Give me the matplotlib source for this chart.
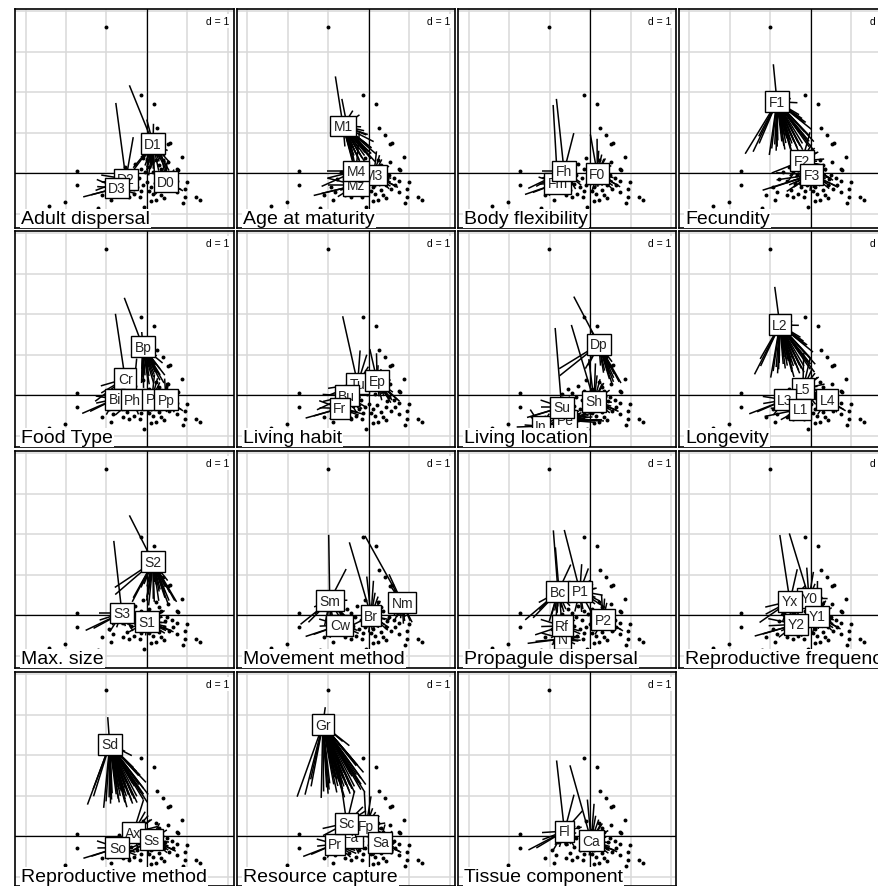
import matplotlib
matplotlib.use('Agg')
import matplotlib.pyplot as plt
from matplotlib.collections import LineCollection

plt.rcParams['font.family'] = ['Liberation Sans', 'DejaVu Sans']

# taxa scores on the first two axes
px = [-1.02, -0.16, 0.17, 0.25, 0.40, 0.51, 0.58, 0.87, 0.74, 0.77,
      -1.74, -1.72, 0.98, -0.83, -0.16, 0.16, 0.74, 1.22, 1.31, 0.94,
      0.88, 0.43, 0.21, -0.17, -0.88, -2.02, -2.41, -1.22, -0.07,
      -0.45, -0.30, -0.10, 0.05, 0.22, 0.35, 0.52, -0.60, -0.40, -0.20,
      0.00, 0.20, 0.42, 0.62, -0.50, 0.30, -0.05, 0.15, -0.32, 0.55, -0.70,
      -0.25, 0.10, 0.45, -0.55, 0.30, -0.15, 0.65, -0.80, 0.05, -0.35,
      -0.95, -0.60, 0.35, 0.75, -1.10, 0.95, -0.10, 0.50, -0.45, 0.10]
py = [3.61, 1.92, 1.71, 1.12, 0.93, 0.72, 0.74, 0.39, 0.10, 0.07,
      0.05, -0.30, -0.21, -0.46, -0.44, -0.51, -0.46, -0.60, -0.66, -0.60,
      -0.73, -0.61, -0.66, -0.60, -0.66, -0.71, -0.81, -0.87, -0.84,
      0.05, 0.22, 0.38, 0.15, 0.32, 0.10, 0.28, -0.20, -0.28, -0.12,
      -0.22, -0.25, -0.30, -0.12, -0.42, -0.42, 0.02, 0.02, -0.52, -0.40, 0.02,
      -0.35, -0.35, -0.15, 0.15, 0.20, 0.10, -0.30, -0.15, -0.45, -0.05,
      -0.35, -0.55, -0.55, -0.20, -0.55, -0.40, -0.30, -0.05, -0.60, -0.70]

# category centres and the taxa carrying each category, per trait
disp_lab = ['D0', 'D1', 'D2', 'D3']
disp_x = [0.47, 0.15, -0.52, -0.74]
disp_y = [-0.22, 0.72, -0.15, -0.37]
disp_taxa = [[3, 4, 5, 7, 8, 9, 12, 15, 16, 17, 18, 19, 20, 21, 22, 28, 34, 35, 40, 41, 42, 44, 46, 48, 52, 56, 51, 62, 63, 65, 67, 69],
             [0, 1, 2, 3, 4, 5, 6, 7, 8, 12, 13, 14, 15, 16, 19, 21, 22, 23, 24, 28, 29, 30, 31, 32, 33, 34, 35, 38, 39, 40, 45, 46, 50, 51, 52, 54, 55, 58, 59, 66, 67, 63],
             [0, 1, 10, 11, 13, 14, 23, 24, 25, 27, 29, 30, 36, 37, 38, 43, 47, 49, 53, 57, 59, 60, 64],
             [10, 11, 13, 24, 25, 26, 27, 23, 14, 28, 36, 37, 43, 47, 49, 15, 22, 57, 50, 53, 60, 61, 64, 68]]

mat_lab = ['M1', 'M3', 'Mz', 'M4']
mat_x = [-0.64, 0.12, -0.32, -0.32]
mat_y = [1.16, -0.05, -0.30, 0.05]
mat_taxa = [[0, 1, 2, 3, 4, 5, 6, 7, 8, 9, 12, 14, 15, 16, 19, 21, 22, 23, 28, 30, 31, 33, 35, 38, 39, 40, 41, 42, 44, 46, 54, 55, 52, 53, 63, 66, 67],
            [3, 4, 5, 7, 8, 9, 12, 16, 17, 18, 19, 20, 21, 22, 34, 35, 41, 42, 48, 52, 56, 51, 58, 62, 63, 65, 67, 69],
            [10, 11, 13, 24, 25, 26, 27, 23, 14, 28, 36, 37, 43, 47, 15, 22, 49, 50, 57, 58, 60, 61, 64, 68, 66],
            [0, 1, 10, 11, 13, 14, 23, 24, 25, 29, 30, 31, 32, 36, 37, 38, 45, 46, 49, 15, 22, 53, 55, 59, 50, 60, 66]]

flex_lab = ['F0', 'Fm', 'Fh']
flex_x = [0.18, -0.80, -0.64]
flex_y = [-0.02, -0.25, 0.05]
flex_taxa = [[1, 2, 3, 4, 5, 6, 7, 8, 9, 12, 14, 15, 16, 17, 18, 19, 20, 21, 22, 23, 28, 31, 32, 33, 34, 35, 39, 40, 41, 42, 44, 45, 46, 48, 50, 51, 52, 54, 55, 56, 58, 62, 63, 65, 66, 67, 69],
             [0, 10, 11, 13, 24, 25, 26, 27, 23, 36, 37, 43, 47, 49, 29, 14, 57, 53, 60, 64, 61],
             [0, 1, 10, 11, 13, 14, 23, 24, 25, 26, 27, 28, 29, 30, 36, 37, 38, 43, 45, 47, 49, 15, 22, 53, 57, 59, 50, 60, 61, 68]]

fec_lab = ['F1', 'F2', 'F3']
fec_x = [-0.84, -0.22, 0.02]
fec_y = [1.76, 0.30, -0.04]
fec_taxa = [[0, 1, 2, 3, 4, 5, 6, 7, 8, 10, 11, 12, 13, 14, 15, 16, 19, 21, 22, 23, 24, 25, 26, 27, 28, 29, 30, 31, 33, 35, 36, 37, 38, 39, 40, 41, 42, 43, 44, 53, 55, 57, 59, 54, 60, 64, 66, 68, 63],
            [2, 3, 4, 5, 6, 7, 8, 9, 12, 16, 17, 18, 19, 20, 21, 22, 13, 24, 11, 15, 28, 32, 33, 34, 35, 41, 42, 44, 46, 48, 36, 37, 52, 54, 56, 51, 62, 63, 65, 67],
            [10, 11, 13, 14, 15, 16, 19, 20, 21, 22, 23, 24, 25, 26, 27, 28, 29, 36, 37, 39, 40, 41, 43, 44, 47, 49, 12, 17, 18, 50, 51, 58, 57, 59, 60, 61, 64, 66, 68, 69, 62]]

food_lab = ['Bp', 'Cr', 'Bi', 'Ph', 'Pl', 'Pp']
food_x = [-0.10, -0.54, -0.79, -0.35, 0.12, 0.47]
food_y = [1.19, 0.40, -0.10, -0.12, -0.10, -0.12]
food_taxa = [[0, 1, 2, 3, 4, 5, 6, 7, 8, 12, 14, 15, 16, 19, 21, 22, 23, 28, 31, 33, 35, 39, 40, 41, 42, 46, 54, 55, 52, 63, 66, 67],
             [0, 10, 11, 13, 24, 25, 27, 14, 23, 29, 30, 36, 37, 38, 43, 45, 49, 53, 57, 59, 60, 64],
             [10, 11, 13, 24, 25, 26, 27, 23, 36, 43, 47, 49, 14, 57, 60, 61, 64],
             [1, 10, 13, 14, 15, 22, 23, 24, 27, 28, 29, 30, 36, 37, 38, 39, 43, 45, 47, 49, 50, 58, 59, 66, 68, 61],
             [3, 4, 5, 7, 8, 9, 12, 15, 16, 17, 18, 19, 20, 21, 22, 28, 32, 33, 34, 35, 39, 40, 41, 42, 44, 46, 48, 51, 52, 54, 56, 62, 67, 69],
             [5, 7, 8, 9, 12, 16, 17, 18, 19, 20, 21, 22, 34, 35, 41, 42, 48, 4, 6, 52, 56, 63, 65, 67]]

hab_lab = ['Tu', 'Bu', 'Ep', 'Fr']
hab_x = [-0.28, -0.55, 0.20, -0.72]
hab_y = [0.28, -0.02, 0.35, -0.33]
hab_taxa = [[0, 1, 2, 3, 4, 5, 6, 7, 10, 11, 13, 14, 23, 24, 29, 30, 31, 33, 36, 38, 43, 45, 46, 53, 55, 59, 60, 66],
            [10, 11, 13, 14, 15, 22, 23, 24, 25, 27, 28, 36, 37, 38, 39, 40, 43, 45, 47, 49, 29, 50, 51, 58, 59, 61, 62, 66, 68, 69],
            [1, 2, 3, 4, 5, 6, 7, 8, 9, 12, 16, 17, 18, 19, 20, 21, 32, 33, 34, 35, 41, 42, 44, 46, 48, 52, 54, 56, 63, 65, 67],
            [10, 11, 13, 24, 25, 26, 27, 23, 14, 28, 36, 37, 43, 47, 49, 15, 22, 21, 57, 50, 60, 64, 61]]

loc_lab = ['Dp', 'In', 'Pe', 'Sh', 'Su']
loc_x = [0.22, -1.21, -0.62, 0.10, -0.70]
loc_y = [1.25, -0.77, -0.62, -0.15, -0.30]
loc_taxa = [[0, 1, 2, 3, 4, 5, 6, 7, 8, 9, 12, 16, 19, 20, 17, 18, 10, 11, 29, 30, 54, 52, 63, 65, 67],
            [25, 26, 27, 24, 13, 11, 10, 23, 43, 47, 57, 64, 60],
            [13, 14, 15, 16, 19, 20, 21, 22, 23, 28, 37, 39, 40, 41, 44, 47, 48, 12, 17, 18, 50, 51, 58, 61, 62, 68, 69, 66],
            [0, 1, 2, 3, 4, 5, 6, 7, 8, 9, 12, 14, 15, 16, 17, 18, 19, 20, 21, 22, 28, 31, 32, 33, 34, 35, 39, 40, 41, 42, 44, 46, 48, 51, 52, 54, 55, 56, 62, 63, 65, 67, 69],
            [0, 10, 11, 13, 14, 23, 24, 25, 26, 27, 28, 29, 30, 36, 37, 38, 43, 45, 47, 49, 15, 22, 53, 57, 59, 50, 60, 61, 64, 66, 68]]

lon_lab = ['L2', 'L5', 'L3', 'L4', 'L1']
lon_x = [-0.77, -0.20, -0.64, 0.40, -0.27]
lon_y = [1.73, 0.15, -0.12, -0.12, -0.35]
lon_taxa = [[0, 1, 2, 3, 4, 5, 6, 7, 8, 10, 11, 12, 13, 14, 15, 16, 19, 21, 22, 23, 24, 25, 27, 28, 29, 30, 31, 33, 35, 36, 37, 38, 39, 40, 41, 42, 43, 44, 53, 55, 57, 59, 60, 64, 66, 63],
            [3, 4, 5, 6, 7, 8, 9, 12, 16, 17, 18, 19, 20, 21, 22, 32, 33, 34, 35, 41, 42, 44, 46, 48, 1, 2, 52, 54, 55, 63, 67],
            [10, 11, 13, 24, 25, 26, 27, 23, 14, 36, 37, 43, 47, 49, 29, 28, 57, 59, 60, 64, 61],
            [7, 8, 9, 12, 16, 17, 18, 19, 20, 21, 22, 34, 35, 41, 42, 48, 15, 28, 52, 56, 62, 63, 65, 67],
            [13, 14, 15, 21, 22, 23, 24, 27, 28, 36, 37, 38, 39, 40, 43, 44, 47, 49, 11, 25, 50, 51, 58, 61, 66, 68, 69]]

size_lab = ['S2', 'S3', 'S1']
size_x = [0.15, -0.62, 0.00]
size_y = [1.31, 0.05, -0.17]
size_taxa = [[0, 1, 2, 3, 4, 5, 6, 7, 8, 9, 12, 16, 17, 18, 19, 20, 21, 10, 11, 13, 14, 15, 22, 23, 24, 28, 29, 30, 31, 33, 35, 54, 55, 52, 63, 67, 66],
             [10, 11, 13, 24, 25, 26, 27, 23, 14, 28, 36, 37, 43, 47, 49, 29, 30, 38, 15, 22, 0, 53, 57, 59, 50, 60, 61, 64, 68],
             [7, 8, 9, 12, 14, 15, 16, 17, 18, 19, 20, 21, 22, 23, 28, 32, 33, 34, 35, 39, 40, 41, 42, 44, 46, 48, 13, 24, 50, 51, 52, 56, 58, 62, 63, 65, 66, 67, 69]]

mov_lab = ['Sm', 'Nm', 'Br', 'Cw']
mov_x = [-0.97, 0.82, 0.05, -0.72]
mov_y = [0.35, 0.30, -0.02, -0.25]
mov_taxa = [[0, 1, 10, 11, 13, 24, 25, 26, 27, 23, 14, 29, 30, 36, 37, 38, 43, 49, 31, 53, 57, 60, 64],
            [2, 3, 4, 5, 6, 7, 8, 9, 12, 16, 17, 18, 19, 20, 21, 34, 35, 41, 42, 48, 0, 52, 56, 54, 63, 65, 67],
            [0, 1, 2, 3, 4, 5, 12, 14, 15, 16, 19, 20, 21, 22, 23, 28, 31, 32, 33, 34, 39, 40, 41, 44, 45, 46, 48, 13, 50, 51, 52, 54, 55, 58, 59, 62, 63, 66, 67, 69],
            [10, 11, 13, 14, 15, 22, 23, 24, 25, 26, 27, 28, 36, 37, 38, 39, 43, 47, 49, 29, 50, 57, 58, 60, 61, 64, 68, 66]]

prop_lab = ['Bc', 'N', 'P1', 'P2', 'Rf']
prop_x = [-0.79, -0.67, -0.25, 0.32, -0.69]
prop_y = [0.57, -0.59, 0.59, -0.12, -0.27]
prop_taxa = [[0, 1, 10, 11, 13, 24, 25, 26, 27, 29, 30, 36, 37, 43, 31, 38, 53, 57, 60, 64],
             [13, 14, 15, 22, 23, 24, 25, 26, 27, 28, 37, 43, 47, 49, 11, 50, 58, 61, 68, 69],
             [0, 1, 2, 3, 4, 5, 6, 7, 31, 33, 35, 43, 44, 30, 32, 8, 12, 14, 10, 54, 55, 66, 67],
             [3, 4, 5, 7, 8, 9, 12, 15, 16, 17, 18, 19, 20, 21, 22, 28, 32, 33, 34, 35, 39, 40, 41, 42, 44, 46, 48, 51, 52, 56, 62, 63, 65, 67],
             [10, 11, 13, 14, 23, 24, 25, 27, 29, 36, 37, 38, 43, 45, 47, 49, 0, 15, 22, 57, 59, 50, 60, 61, 64, 66]]

freq_lab = ['Y0', 'Y1', 'Y2', 'Yx']
freq_x = [-0.05, 0.15, -0.37, -0.52]
freq_y = [0.42, -0.03, -0.23, 0.34]
freq_taxa = [[0, 1, 2, 3, 4, 5, 6, 7, 8, 12, 16, 31, 33, 35, 54, 55, 63, 67],
             [2, 3, 4, 5, 6, 7, 8, 9, 12, 16, 17, 18, 19, 20, 21, 22, 15, 28, 33, 34, 35, 40, 41, 42, 44, 46, 48, 51, 52, 56, 62, 63, 65, 67, 69],
             [10, 11, 13, 14, 15, 22, 23, 24, 25, 26, 27, 28, 36, 37, 38, 39, 43, 47, 49, 29, 50, 58, 57, 60, 61, 64, 66, 68],
             [0, 1, 10, 11, 13, 14, 23, 24, 25, 29, 30, 31, 36, 37, 38, 43, 45, 47, 49, 3, 53, 59, 55, 60, 66]]

rep_lab = ['Ax', 'Sd', 'So', 'Ss']
rep_x = [-0.34, -0.92, -0.73, 0.11]
rep_y = [0.08, 2.26, -0.29, -0.09]
rep_taxa = [[2, 3, 4, 5, 6, 7, 8, 14, 15, 16, 21, 22, 28, 31, 32, 33, 34, 35, 39, 40, 41, 44, 46, 54, 55, 59, 63, 66, 67],
            [0, 1, 2, 3, 4, 5, 6, 7, 8, 10, 11, 12, 13, 14, 15, 16, 19, 21, 22, 23, 24, 25, 27, 28, 29, 30, 31, 33, 35, 36, 37, 38, 39, 40, 41, 42, 43, 44, 53, 55, 57, 59, 54, 60, 64, 66, 68, 63],
            [10, 11, 13, 14, 23, 24, 25, 26, 27, 28, 29, 36, 37, 38, 43, 45, 47, 49, 15, 22, 50, 57, 58, 60, 61, 64, 68],
            [5, 7, 8, 9, 12, 16, 17, 18, 19, 20, 21, 22, 15, 28, 34, 35, 41, 42, 44, 48, 13, 24, 27, 51, 52, 56, 62, 63, 65, 67, 69]]

res_lab = ['Fa', 'Fp', 'Gr', 'Pr', 'Sa', 'Sc']
res_x = [-0.44, -0.07, -1.14, -0.84, 0.28, -0.55]
res_y = [-0.03, 0.25, 2.75, -0.20, -0.15, 0.32]
res_taxa = [[13, 14, 15, 22, 23, 28, 37, 38, 39, 40, 43, 47, 50, 59, 66, 68],
            [1, 2, 3, 4, 5, 6, 7, 8, 9, 12, 16, 17, 18, 19, 20, 21, 22, 32, 33, 34, 35, 41, 42, 44, 46, 48, 52, 54, 55, 63, 67],
            [0, 1, 2, 3, 4, 5, 6, 7, 8, 10, 11, 12, 13, 14, 15, 16, 19, 21, 22, 23, 24, 25, 26, 27, 28, 29, 30, 31, 33, 35, 36, 37, 38, 39, 40, 41, 42, 44, 53, 55, 57, 59, 54, 60, 64, 66, 68, 63],
            [10, 11, 13, 14, 23, 24, 25, 26, 27, 28, 29, 36, 37, 38, 43, 45, 47, 49, 15, 22, 57, 50, 60, 61, 64],
            [5, 7, 8, 9, 12, 15, 16, 17, 18, 19, 20, 21, 22, 28, 34, 35, 39, 40, 41, 42, 44, 46, 48, 51, 52, 56, 58, 62, 63, 65, 67, 69],
            [0, 1, 3, 4, 10, 11, 13, 14, 23, 24, 29, 30, 31, 32, 36, 37, 38, 39, 43, 45, 47, 49, 15, 22, 28, 53, 55, 59, 60, 66]]

tis_lab = ['Fl', 'Ca']
tis_x = [-0.63, 0.03]
tis_y = [0.12, -0.12]
tis_taxa = [[0, 1, 10, 11, 13, 14, 23, 24, 25, 26, 27, 29, 30, 31, 36, 37, 38, 43, 45, 47, 49, 3, 33, 53, 57, 59, 50, 60, 61, 64, 68],
            [0, 1, 2, 3, 4, 5, 6, 7, 8, 9, 12, 14, 15, 16, 17, 18, 19, 20, 21, 22, 23, 28, 31, 32, 33, 34, 35, 39, 40, 41, 42, 44, 46, 48, 51, 52, 54, 55, 56, 58, 62, 63, 65, 66, 67, 69]]

traits = [
    ('Adult dispersal', disp_lab, disp_x, disp_y, disp_taxa),
    ('Age at maturity', mat_lab, mat_x, mat_y, mat_taxa),
    ('Body flexibility', flex_lab, flex_x, flex_y, flex_taxa),
    ('Fecundity', fec_lab, fec_x, fec_y, fec_taxa),
    ('Food Type', food_lab, food_x, food_y, food_taxa),
    ('Living habit', hab_lab, hab_x, hab_y, hab_taxa),
    ('Living location', loc_lab, loc_x, loc_y, loc_taxa),
    ('Longevity', lon_lab, lon_x, lon_y, lon_taxa),
    ('Max. size', size_lab, size_x, size_y, size_taxa),
    ('Movement method', mov_lab, mov_x, mov_y, mov_taxa),
    ('Propagule dispersal', prop_lab, prop_x, prop_y, prop_taxa),
    ('Reproductive frequency', freq_lab, freq_x, freq_y, freq_taxa),
    ('Reproductive method', rep_lab, rep_x, rep_y, rep_taxa),
    ('Resource capture', res_lab, res_x, res_y, res_taxa),
    ('Tissue component', tis_lab, tis_x, tis_y, tis_taxa),
]

W, H = 879, 887
fig = plt.figure(figsize=(W / 100, H / 100), dpi=100)

col_left = [15, 237, 458, 679]
col_w = [219, 218, 218, 219]
row_top = [10, 232, 452, 673]
row_h = [219, 216, 217, 214]
unit = 40.5          # pixels per d = 1
ox, oy = 132, 164    # origin offset from a panel's top-left corner
cstar = 0.5

for k, (name, labs, cx, cy, taxa) in enumerate(traits):
    r, c = divmod(k, 4)
    w, h = col_w[c], row_h[r]
    ax = fig.add_axes([col_left[c] / W, 1 - (row_top[r] + h) / H, w / W, h / H])
    ax.set_xlim(-ox / unit, (w - ox) / unit)
    ax.set_ylim(-(h - oy) / unit, oy / unit)
    ax.set_xticks([])
    ax.set_yticks([])
    for s in ax.spines.values():
        s.set_linewidth(1.2)
        s.set_color('black')

    # grid and axes through the origin
    for g in range(-3, 3):
        ax.axvline(g, color='#d9d9d9', lw=1.1, zorder=0)
    for g in range(-1, 5):
        ax.axhline(g, color='#d9d9d9', lw=1.1, zorder=0)
    ax.axvline(0, color='black', lw=0.9, zorder=1)
    ax.axhline(0, color='black', lw=0.9, zorder=1)

    ax.scatter(px, py, s=8, color='black', zorder=2, linewidths=0)

    # stars from each category centre toward its taxa
    segs = []
    for j in range(len(labs)):
        for i in taxa[j]:
            segs.append([(cx[j], cy[j]),
                         (cx[j] + cstar * (px[i] - cx[j]), cy[j] + cstar * (py[i] - cy[j]))])
    ax.add_collection(LineCollection(segs, colors='black', linewidths=1.1, zorder=3))

    for j, lab in enumerate(labs):
        ax.text(cx[j], cy[j], lab, ha='center', va='center', fontsize=10, color='#222222',
                zorder=4 + j, clip_on=True,
                bbox=dict(boxstyle='square,pad=0.25', fc='white', ec='black', lw=1.0))

    ax.text(6 / w, 0.004, name, transform=ax.transAxes, ha='left', va='bottom',
            fontsize=14, zorder=20,
            bbox=dict(boxstyle='square,pad=0.05', fc='white', ec='none'))
    ax.text(1 - 5 / w, 1 - 7 / h, 'd = 1', transform=ax.transAxes, ha='right', va='top',
            fontsize=7.5, zorder=20,
            bbox=dict(boxstyle='square,pad=0.15', fc='white', ec='none'))

fig.savefig('out.png', dpi=100)
